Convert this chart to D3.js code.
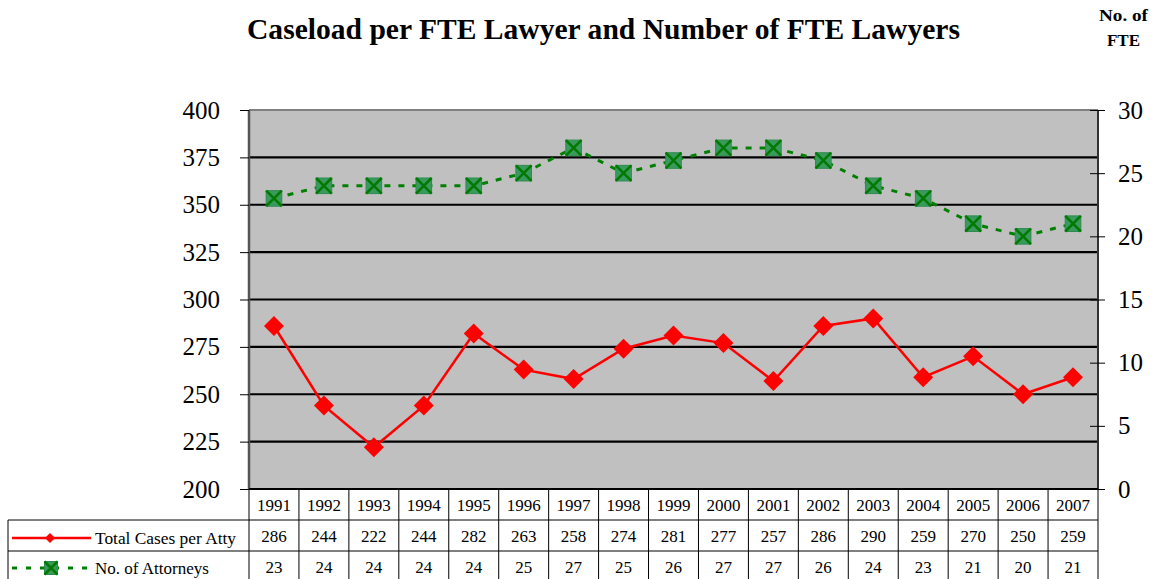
<!DOCTYPE html>
<html><head><meta charset="utf-8">
<script src="https://cdn.jsdelivr.net/npm/d3@7"></script>
<style>body{margin:0;background:#fff;}svg{display:block;} svg text{font-family:"Liberation Serif","Times New Roman",serif !important;}</style>
</head><body>
<svg id="c" width="1154" height="579"></svg>
<script>
const years = ["1991","1992","1993","1994","1995","1996","1997","1998","1999","2000","2001","2002","2003","2004","2005","2006","2007"];
const casesPerAtty = [286,244,222,244,282,263,258,274,281,277,257,286,290,259,270,250,259];
const attorneys = [23,24,24,24,24,25,27,25,26,27,27,26,24,23,21,20,21];
const leftTicks = [200,225,250,275,300,325,350,375,400];
const rightTicks = [0,5,10,15,20,25,30];
const seriesNames = ["Total Cases per Atty","No. of Attorneys"];

const svg = d3.select("#c");
const L = 249, R = 1098, T = 110, B = 489;
const x = d3.scaleBand().domain(years).range([L, R]);
const yL = d3.scaleLinear().domain([200,400]).range([B, T]);
const yR = d3.scaleLinear().domain([0,30]).range([B, T]);

// title
svg.append("text").attr("x",247).attr("y",38.5)
  .attr("font-weight","bold").attr("font-size","30px")
  .attr("textLength",713).attr("lengthAdjust","spacingAndGlyphs")
  .text("Caseload per FTE Lawyer and Number of FTE Lawyers");
svg.append("text").attr("x",1099).attr("y",21)
  .attr("font-weight","bold").attr("font-size","17px")
  .attr("textLength",49).attr("lengthAdjust","spacingAndGlyphs").text("No. of");
svg.append("text").attr("x",1123.5).attr("y",46).attr("text-anchor","middle")
  .attr("font-weight","bold").attr("font-size","17px").text("FTE");

// plot bg
svg.append("rect").attr("x",L).attr("y",T).attr("width",R-L).attr("height",B-T).attr("fill","#c0c0c0");

// gridlines
svg.append("g").selectAll("line").data(leftTicks.filter(d=>d>200 && d<400)).join("line")
  .attr("x1",L).attr("x2",R).attr("y1",d=>yL(d)).attr("y2",d=>yL(d))
  .attr("stroke","#000").attr("stroke-width",2.2);

// border
svg.append("line").attr("x1",L).attr("x2",R).attr("y1",T).attr("y2",T).attr("stroke","#808080").attr("stroke-width",2);
svg.append("line").attr("x1",L).attr("x2",L).attr("y1",T).attr("y2",B).attr("stroke","#555").attr("stroke-width",2.5);
svg.append("line").attr("x1",R).attr("x2",R).attr("y1",T).attr("y2",B).attr("stroke","#333").attr("stroke-width",2);
svg.append("line").attr("x1",L).attr("x2",R).attr("y1",B).attr("y2",B).attr("stroke","#000").attr("stroke-width",2);

// left axis
const gl = svg.append("g").attr("transform",`translate(${L},0)`)
  .call(d3.axisLeft(yL).tickValues(leftTicks).tickSize(9).tickPadding(20));
gl.select(".domain").remove();
gl.attr("font-family",null);
gl.selectAll("text").attr("font-size","25px").attr("fill","#000");
gl.selectAll("line").attr("stroke","#000");

// right axis
const gr = svg.append("g").attr("transform",`translate(${R},0)`)
  .call(d3.axisRight(yR).tickValues(rightTicks).tickSize(7).tickPadding(13));
gr.select(".domain").remove();
gr.attr("font-family",null);
gr.selectAll("text").attr("font-size","25px").attr("fill","#000");
gr.selectAll("line").attr("stroke","#000").attr("x1",-8);

const cx = d => x(d) + x.bandwidth()/2;

// green series
const lineG = d3.line().x((d,i)=>cx(years[i])).y(d=>yR(d));
svg.append("path").datum(attorneys).attr("d",lineG).attr("fill","none")
  .attr("stroke","#008000").attr("stroke-width",3).attr("stroke-dasharray","6,8");
function xMarker(g, px, py, s){
  g.append("rect").attr("x",px-s).attr("y",py-s).attr("width",2*s).attr("height",2*s).attr("fill","#3a9a5e").attr("stroke","#2e8b4e").attr("stroke-width",1);
  g.append("path").attr("d",`M${px-s},${py-s}L${px+s},${py+s}M${px+s},${py-s}L${px-s},${py+s}`).attr("stroke","#007a00").attr("stroke-width",2.5);
}
const gm = svg.append("g");
attorneys.forEach((v,i)=>xMarker(gm, cx(years[i]), yR(v), 7.8));

// red series
const lineR = d3.line().x((d,i)=>cx(years[i])).y(d=>yL(d));
svg.append("path").datum(casesPerAtty).attr("d",lineR).attr("fill","none")
  .attr("stroke","#ff0000").attr("stroke-width",2.5);
svg.append("g").selectAll("path").data(casesPerAtty).join("path")
  .attr("d",(d,i)=>{const px=cx(years[i]), py=yL(d), s=10; return `M${px},${py-s}L${px+s},${py}L${px},${py+s}L${px-s},${py}Z`;})
  .attr("fill","#ff0000");

// data table
const rowTop = [489, 520, 551];
const rowH = 31;
const tb = svg.append("g");
const tableBottom = 585;
tb.append("line").attr("x1",8).attr("x2",R).attr("y1",520).attr("y2",520).attr("stroke","#000").attr("stroke-width",1);
tb.append("line").attr("x1",8).attr("x2",R).attr("y1",551).attr("y2",551).attr("stroke","#000").attr("stroke-width",1);
tb.append("line").attr("x1",8).attr("x2",8).attr("y1",520).attr("y2",tableBottom).attr("stroke","#000");
const vx = years.map(y=>x(y)).concat([R]);
tb.selectAll("line.v").data(vx).join("line").attr("class","v")
  .attr("x1",d=>d).attr("x2",d=>d).attr("y1",B).attr("y2",tableBottom).attr("stroke","#000").attr("stroke-width",1);
const rows = [years, casesPerAtty, attorneys];
rows.forEach((r,ri)=>{
  tb.append("g").selectAll("text").data(r).join("text")
    .attr("x",(d,i)=>cx(years[i])).attr("y",rowTop[ri]+rowH/2+6).attr("text-anchor","middle")
    .attr("font-size","17px").text(d=>d);
});
// legend keys
tb.append("line").attr("x1",12).attr("x2",91).attr("y1",538).attr("y2",538).attr("stroke","#ff0000").attr("stroke-width",2.5);
tb.append("path").attr("d","M50,533L55,538L50,543L45,538Z").attr("fill","#ff0000");
tb.append("text").attr("x",95).attr("y",544).attr("font-size","17px").attr("textLength",141).attr("lengthAdjust","spacingAndGlyphs").text(seriesNames[0]);
tb.append("line").attr("x1",12).attr("x2",92).attr("y1",568).attr("y2",568).attr("stroke","#008000").attr("stroke-width",3).attr("stroke-dasharray","5,9");
xMarker(tb, 51, 568, 6.5);
tb.append("text").attr("x",95).attr("y",574).attr("font-size","17px").text(seriesNames[1]);
</script>
</body></html>
